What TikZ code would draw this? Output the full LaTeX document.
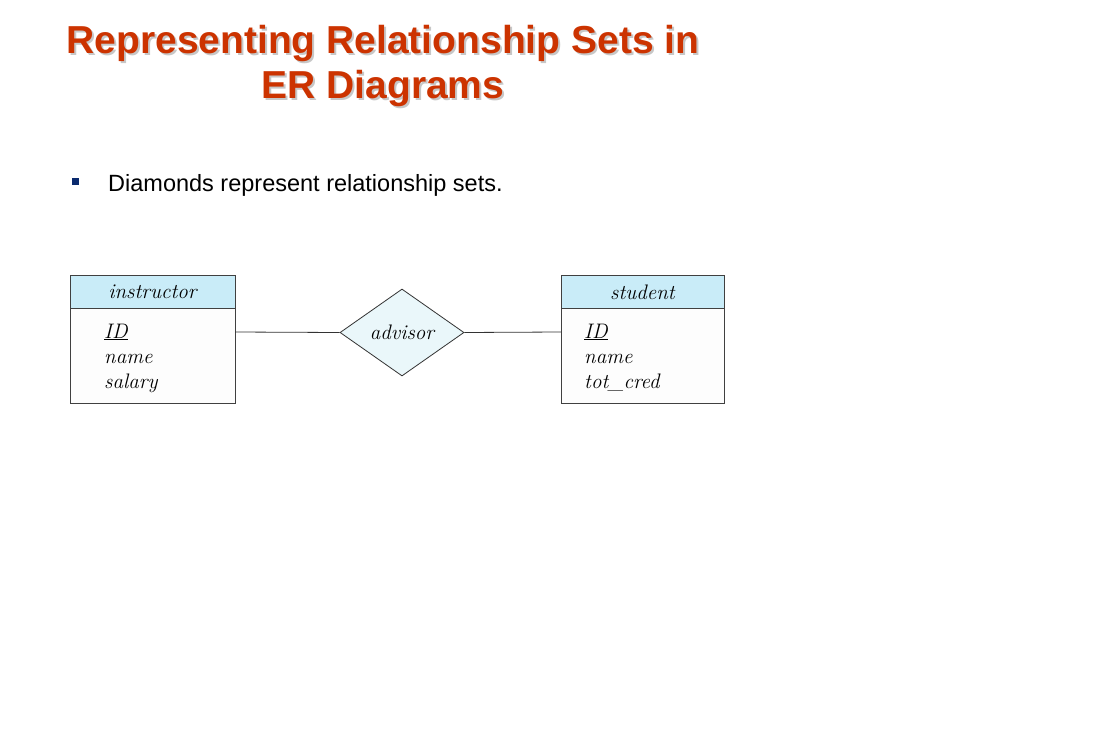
\documentclass[tikz,border=0pt]{standalone}
\usepackage{fontspec}
\setsansfont{Liberation Sans}
\usetikzlibrary{shapes.geometric}
\definecolor{titlered}{HTML}{CC3300}
\definecolor{hdrblue}{HTML}{C9ECF8}
\definecolor{diafill}{HTML}{EAF7FA}
\definecolor{bodyfill}{HTML}{FDFDFD}
\definecolor{bulletblue}{HTML}{0A2A6E}
\newcommand\shadowedline[1]{\rlap{\kern2bp\raisebox{-2bp}{\color{black!22}#1}}#1}
\tikzset{
  titletext/.style={font=\fontsize{39bp}{45bp}\sffamily\bfseries, text=titlered, align=center, inner sep=0pt},
  bodytext/.style={font=\fontsize{23.5bp}{27bp}\sffamily, inner sep=0pt, anchor=base west},
  hdrbox/.style={draw=black!75, line width=0.8bp, fill=hdrblue},
  bodybox/.style={draw=black!75, line width=0.8bp, fill=bodyfill},
  erlabel/.style={font=\fontsize{21bp}{25bp}\itshape, inner sep=0pt},
  attr/.style={font=\fontsize{21bp}{25bp}\itshape, inner sep=0pt, anchor=base west},
  relbox/.style={diamond, draw=black!80, line width=0.8bp, fill=diafill, minimum width=124bp, minimum height=87bp, inner sep=0pt, aspect=1.42},
  conn/.style={draw=black!80, line width=0.8bp}
}
\begin{document}
\begin{tikzpicture}[x=1bp,y=-1bp]
\useasboundingbox (0,0) rectangle (1120,750);
\fill[white] (0,0) rectangle (1120,750);
% title
\node[titletext] (title) at (383,67) {\shadowedline{Representing Relationship Sets in}\\\shadowedline{ER Diagrams}};
% bullet
\node[fill=bulletblue, minimum size=7bp, inner sep=0pt] (bul) at (75.5,181) {};
\node[bodytext] (bt) at (108,191) {Diamonds represent relationship sets.};
% instructor
\draw[hdrbox] (70,275) rectangle (235,308);
\draw[bodybox] (70,308) rectangle (235,403);
\node[erlabel] (ihdr) at (152.5,292) {instructor};
\node[attr] (iid) at (104,338) {\underline{ID}};
\node[attr] (iname) at (104,363) {name};
\node[attr] (isal) at (104,388) {salary};
\coordinate (iR) at (235,332);
% student
\draw[hdrbox] (561,275) rectangle (724,308);
\draw[bodybox] (561,308) rectangle (724,403);
\node[erlabel] (shdr) at (642.5,292) {student};
\node[attr] (sid) at (584,338) {\underline{ID}};
\node[attr] (sname) at (584,363) {name};
\node[attr] (scred) at (584,388) {tot\_cred};
\coordinate (sL) at (561,332);
% relationship
\node[relbox] (adv) at (402,332.5) {};
\node[erlabel] (advl) at (402,332) {advisor};
\draw[conn] (iR) -- (adv.west);
\draw[conn] (adv.east) -- (sL);
\end{tikzpicture}
\end{document}
